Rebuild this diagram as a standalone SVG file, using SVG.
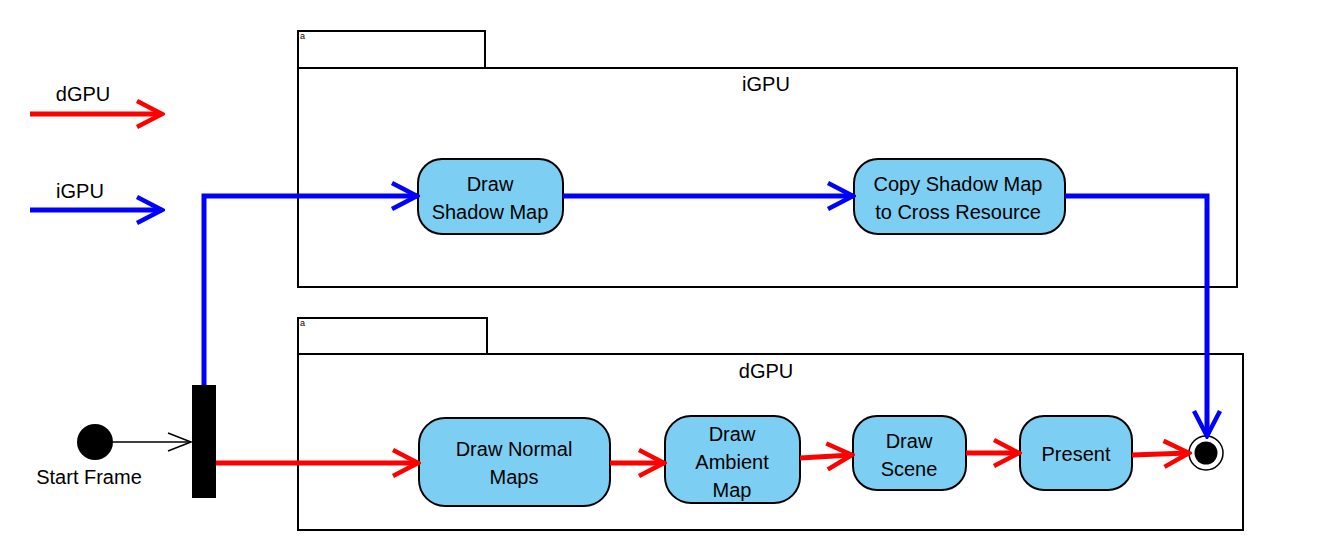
<svg xmlns="http://www.w3.org/2000/svg" width="1323" height="560" viewBox="0 0 1323 560">
<defs>
<marker id="ar" viewBox="0 0 30 30" refX="27" refY="15" markerWidth="30" markerHeight="30" markerUnits="userSpaceOnUse" orient="auto"><path d="M2,2 L27,15 L2,28" fill="none" stroke="#ff0000" stroke-width="4.5"/></marker>
<marker id="ab" viewBox="0 0 30 30" refX="27" refY="15" markerWidth="30" markerHeight="30" markerUnits="userSpaceOnUse" orient="auto"><path d="M2,2 L27,15 L2,28" fill="none" stroke="#0000ff" stroke-width="4.5"/></marker>
<marker id="ak" viewBox="0 0 30 30" refX="27" refY="15" markerWidth="30" markerHeight="30" markerUnits="userSpaceOnUse" orient="auto"><path d="M4,6 L27,15 L4,24" fill="none" stroke="#000" stroke-width="1.5"/></marker>
</defs>
<style>
text{font-family:"Liberation Sans",Arial,sans-serif;fill:#000}
.t{font-size:20px;text-anchor:middle}
.pk{fill:#fff;stroke:#000;stroke-width:2}
.nd{fill:#7ccff3;stroke:#000;stroke-width:2}
.r{fill:none;stroke:#ff0000;stroke-width:5}
.b{fill:none;stroke:#0000ff;stroke-width:5}
.s{font-size:9px}
</style>
<rect width="1323" height="560" fill="#fff"/>
<g id="legend">
<text class="t" x="83" y="101">dGPU</text>
<line x1="30" y1="114" x2="162" y2="114" class="r" marker-end="url(#ar)"/>
<text class="t" x="80" y="198">iGPU</text>
<line x1="30" y1="210" x2="162" y2="210" class="b" marker-end="url(#ab)"/>
</g>
<g id="pkg-igpu">
<rect class="pk" x="298" y="31" width="187" height="37"/>
<rect class="pk" x="298" y="68" width="939" height="219"/>
<text class="s" x="300" y="39">a</text>
<text class="t" x="766" y="91">iGPU</text>
</g>
<g id="pkg-dgpu">
<rect class="pk" x="298" y="318" width="189" height="36"/>
<rect class="pk" x="298" y="354" width="945" height="176"/>
<text class="s" x="300" y="326">a</text>
<text class="t" x="766" y="378">dGPU</text>
</g>
<g id="start">
<circle cx="95" cy="442" r="18" fill="#000"/>
<text x="89" y="484" class="t">Start Frame</text>
</g>
<g id="fork">
<rect x="192" y="385" width="24" height="113" fill="#000"/>
</g>
<g id="draw-shadow-map">
<rect class="nd" x="418" y="159" width="145" height="75" rx="24"/>
<text class="t" x="490" y="191">Draw</text>
<text class="t" x="490" y="219">Shadow Map</text>
</g>
<g id="copy-shadow-map">
<rect class="nd" x="854" y="159" width="211" height="75" rx="24"/>
<text class="t" x="958" y="191">Copy Shadow Map</text>
<text class="t" x="958" y="219">to Cross Resource</text>
</g>
<g id="draw-normal-maps">
<rect class="nd" x="419" y="418" width="191" height="88" rx="26"/>
<text class="t" x="514" y="456">Draw Normal</text>
<text class="t" x="514" y="484">Maps</text>
</g>
<g id="draw-ambient-map">
<rect class="nd" x="665" y="416" width="135" height="87" rx="26"/>
<text class="t" x="732" y="441">Draw</text>
<text class="t" x="732" y="469">Ambient</text>
<text class="t" x="732" y="497">Map</text>
</g>
<g id="draw-scene">
<rect class="nd" x="853" y="416" width="113" height="74" rx="24"/>
<text class="t" x="909" y="448">Draw</text>
<text class="t" x="909" y="476">Scene</text>
</g>
<g id="present">
<rect class="nd" x="1020" y="416" width="112" height="74" rx="24"/>
<text class="t" x="1076" y="461">Present</text>
</g>
<g id="final">
<circle cx="1206" cy="453" r="17" fill="#fff" stroke="#000" stroke-width="1.5"/>
<circle cx="1206" cy="453" r="11.5" fill="#000"/>
</g>
<g id="connectors">
<line x1="113" y1="442" x2="191" y2="442" stroke="#000" stroke-width="1.5" marker-end="url(#ak)"/>
<polyline class="b" points="204,385 204,196 417,196" marker-end="url(#ab)"/>
<line class="b" x1="563" y1="196" x2="853" y2="196" marker-end="url(#ab)"/>
<polyline class="b" points="1065,196 1207,196 1207,436" marker-end="url(#ab)"/>
<line class="r" x1="216" y1="463" x2="418" y2="463" marker-end="url(#ar)"/>
<line class="r" x1="610" y1="463" x2="664" y2="463" marker-end="url(#ar)"/>
<line class="r" x1="800" y1="458" x2="852" y2="455" marker-end="url(#ar)"/>
<line class="r" x1="966" y1="453" x2="1019" y2="453" marker-end="url(#ar)"/>
<line class="r" x1="1132" y1="455" x2="1189" y2="453" marker-end="url(#ar)"/>
</g>
</svg>
